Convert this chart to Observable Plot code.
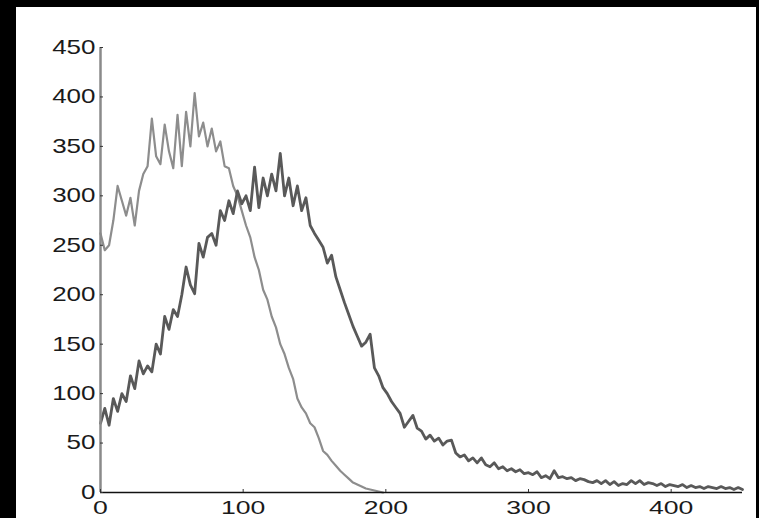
<!DOCTYPE html>
<html><head><meta charset="utf-8">
<script src="https://cdn.jsdelivr.net/npm/d3@7"></script>
<script src="https://cdn.jsdelivr.net/npm/@observablehq/plot@0.6"></script>
<style>
html,body{margin:0;padding:0;background:#000;width:759px;height:518px;overflow:hidden;}
#frame{position:absolute;left:16px;top:7px;width:740px;height:511px;background:#fff;overflow:hidden;}
</style></head><body><div id="frame"></div>
<script>
// sample spacing (x units) of both series
const sampleStep = 3;
// light gray series, x = 0, 3, 6, ...
const lightValues = [262,245,250,275,310,295,280,298,270,305,322,330,378,340,332,372,345,328,382,330,
  385,350,404,360,374,350,368,345,355,330,328,310,300,285,270,258,238,225,205,195,
  178,167,150,140,126,115,95,86,80,70,66,55,42,38,32,27,22,18,14,10,
  8,6,4,3,2,1,0];
// dark gray series, x = 0, 3, 6, ...
const darkValues = [70,85,68,95,82,100,92,118,105,133,120,128,122,150,140,178,165,185,178,200,
  228,210,201,252,238,258,262,250,285,275,295,282,305,292,300,285,329,288,318,300,
  322,305,343,300,318,290,310,285,298,270,262,255,248,232,240,218,205,192,180,168,
  158,148,152,160,126,118,106,100,92,86,80,66,72,78,65,62,54,58,52,55,
  48,52,53,40,36,38,32,35,30,35,28,26,30,24,26,22,24,21,23,19,
  20,18,21,15,17,14,22,15,16,14,15,12,14,13,11,10,12,9,12,8,
  11,7,9,8,12,9,12,8,10,9,7,9,6,8,7,6,8,5,7,5,
  6,4,6,5,4,6,4,5,3,5,3];
const xTicks = [0, 100, 200, 300, 400];
const yTicks = [0, 50, 100, 150, 200, 250, 300, 350, 400, 450];

const light = lightValues.map((v, i) => ({x: i * sampleStep, y: v}));
const dark = darkValues.map((v, i) => ({x: i * sampleStep, y: v}));

const chart = Plot.plot({
  width: 740, height: 511,
  marginLeft: 84, marginRight: 14, marginTop: 40, marginBottom: 26,
  x: {domain: [0, 450]},
  y: {domain: [0, 450]},
  style: {background: "#fff", fontFamily: "'Liberation Sans', Arial, sans-serif", fontSize: "20px", color: "#1a1a1a", overflow: "hidden"},
  marks: [
    Plot.line(light, {x: "x", y: "y", stroke: "#8d8d8d", strokeWidth: 2.2, strokeLinejoin: "round"}),
    Plot.line(dark, {x: "x", y: "y", stroke: "#595959", strokeWidth: 2.8, strokeLinejoin: "round"}),
    Plot.ruleX([0], {y1: 0, y2: 450, stroke: "#8a8a8a", strokeWidth: 2.5}),
    Plot.ruleY([0], {stroke: "#111", strokeWidth: 1.5}),
    Plot.axisY(yTicks, {label: null, tickSize: -3, tickPadding: 8, stroke: "#333", fontSize: 20}),
    Plot.axisX(xTicks, {label: null, tickSize: -3, tickPadding: 11, stroke: "#333", fontSize: 19})
  ]
});
// widen the glyphs like the stretched reference
chart.querySelectorAll('g[aria-label="y-axis tick label"] text').forEach(t => {
  t.setAttribute("transform", t.getAttribute("transform") + " scale(1.3,1)");
});
chart.querySelectorAll('g[aria-label="x-axis tick label"] text').forEach(t => {
  t.setAttribute("transform", t.getAttribute("transform") + " scale(1.4,1)");
});
document.getElementById("frame").appendChild(chart);
</script></body></html>
